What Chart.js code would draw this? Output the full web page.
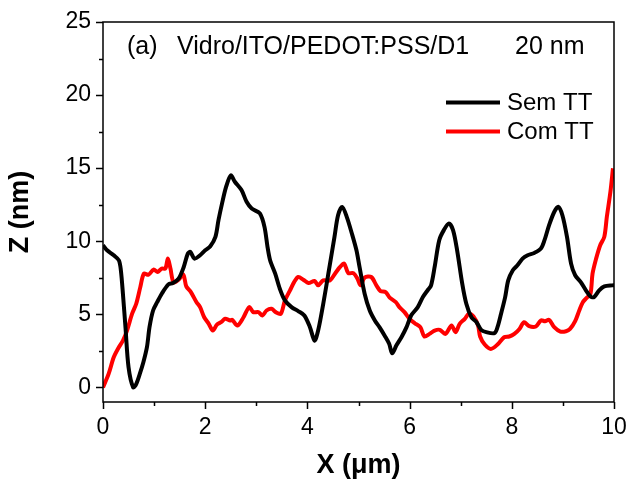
<!DOCTYPE html>
<html>
<head>
<meta charset="utf-8">
<script src="https://cdn.jsdelivr.net/npm/chart.js@4/dist/chart.umd.min.js"></script>
<style>
  html, body { margin: 0; padding: 0; background: #fff; }
  #wrap { width: 630px; height: 484px; }
</style>
</head>
<body>
<div id="wrap"><canvas id="c" width="630" height="484"></canvas></div>
<script>
// Surface height profiles, Z (nm) against X (µm)
const semX = [0, 0.08, 0.21, 0.31, 0.35, 0.39, 0.44, 0.5, 0.59, 0.65, 0.72, 0.79, 0.86, 0.91, 0.98, 1.06, 1.15, 1.28, 1.37, 1.48, 1.58, 1.66, 1.71, 1.79, 1.9, 2.0, 2.1, 2.2, 2.26, 2.33, 2.41, 2.5, 2.58, 2.71, 2.81, 2.91, 3.07, 3.16, 3.22, 3.27, 3.37, 3.46, 3.56, 3.69, 3.82, 3.94, 4.05, 4.14, 4.21, 4.31, 4.41, 4.53, 4.6, 4.68, 4.77, 4.87, 4.96, 5.02, 5.12, 5.22, 5.32, 5.41, 5.51, 5.6, 5.66, 5.74, 5.84, 5.94, 6.03, 6.16, 6.26, 6.36, 6.42, 6.49, 6.58, 6.67, 6.77, 6.85, 6.93, 7.03, 7.11, 7.21, 7.31, 7.4, 7.5, 7.66, 7.72, 7.79, 7.87, 7.93, 8.02, 8.11, 8.21, 8.31, 8.44, 8.57, 8.64, 8.73, 8.83, 8.91, 8.99, 9.08, 9.16, 9.24, 9.35, 9.45, 9.54, 9.61, 9.71, 9.81, 9.97, 10.0];
const semZ = [9.73, 9.38, 9.04, 8.7, 8.0, 6.4, 4.1, 1.37, 0.0, 0.23, 0.92, 1.72, 2.75, 4.12, 5.26, 5.83, 6.41, 7.05, 7.14, 7.44, 8.24, 9.15, 9.27, 8.81, 9.04, 9.38, 9.66, 10.3, 11.44, 12.59, 13.73, 14.5, 14.07, 13.5, 12.7, 12.24, 11.9, 10.98, 9.6, 8.7, 7.78, 6.75, 5.95, 5.49, 5.22, 4.92, 4.12, 3.2, 3.89, 5.72, 7.78, 10.3, 11.78, 12.35, 11.67, 10.53, 9.38, 8.24, 6.41, 5.26, 4.58, 4.12, 3.55, 2.98, 2.33, 2.86, 3.43, 4.12, 4.92, 5.49, 6.18, 6.68, 6.98, 8.24, 10.07, 10.76, 11.21, 10.76, 9.38, 7.1, 5.72, 4.8, 4.46, 3.94, 3.78, 3.71, 4.12, 5.04, 6.18, 7.32, 8.01, 8.35, 8.81, 9.04, 9.2, 9.5, 10.07, 11.1, 12.0, 12.35, 11.78, 10.3, 8.47, 7.67, 7.2, 6.64, 6.22, 6.18, 6.64, 6.91, 6.98, 6.98];

const comX = [0, 0.11, 0.21, 0.31, 0.39, 0.47, 0.57, 0.65, 0.73, 0.8, 0.89, 0.99, 1.07, 1.15, 1.22, 1.27, 1.32, 1.38, 1.48, 1.57, 1.63, 1.72, 1.83, 1.9, 1.98, 2.07, 2.15, 2.23, 2.31, 2.39, 2.49, 2.53, 2.63, 2.75, 2.86, 2.94, 3.04, 3.12, 3.2, 3.3, 3.38, 3.48, 3.56, 3.66, 3.74, 3.82, 3.92, 4.02, 4.14, 4.21, 4.31, 4.44, 4.54, 4.64, 4.72, 4.8, 4.9, 4.98, 5.04, 5.12, 5.25, 5.35, 5.43, 5.53, 5.61, 5.73, 5.8, 5.9, 6.0, 6.1, 6.21, 6.29, 6.39, 6.49, 6.59, 6.7, 6.82, 6.9, 6.98, 7.08, 7.16, 7.25, 7.34, 7.38, 7.47, 7.59, 7.72, 7.85, 7.95, 8.05, 8.15, 8.24, 8.34, 8.47, 8.57, 8.65, 8.73, 8.83, 8.95, 9.06, 9.14, 9.24, 9.32, 9.39, 9.47, 9.54, 9.58, 9.65, 9.73, 9.81, 9.86, 9.93, 9.98];
const comZ = [0.0, 0.92, 2.06, 2.75, 3.2, 3.89, 5.04, 5.72, 6.86, 7.78, 7.71, 8.06, 7.9, 8.13, 8.13, 8.81, 8.13, 7.2, 7.37, 7.73, 6.91, 6.52, 5.83, 5.49, 4.8, 4.35, 3.89, 4.3, 4.46, 4.69, 4.58, 4.62, 4.23, 4.8, 5.49, 5.15, 5.15, 4.92, 5.26, 5.38, 5.15, 5.04, 5.95, 6.64, 7.2, 7.55, 7.37, 7.14, 7.28, 6.98, 7.32, 7.32, 7.78, 8.24, 8.47, 7.82, 7.82, 7.44, 6.98, 7.51, 7.55, 6.98, 6.59, 6.52, 6.14, 5.83, 5.49, 5.15, 4.69, 4.39, 4.12, 3.48, 3.66, 3.89, 3.94, 3.66, 4.23, 3.78, 4.35, 4.69, 5.04, 4.85, 4.23, 3.48, 2.93, 2.63, 2.93, 3.43, 3.48, 3.66, 4.0, 4.46, 4.19, 4.17, 4.58, 4.53, 4.62, 4.12, 3.82, 3.84, 4.0, 4.53, 5.26, 5.83, 6.14, 6.41, 7.78, 8.81, 9.73, 10.3, 11.67, 13.38, 14.99];

const seriesNames = ['Sem TT', 'Com TT'];
const yMajorTicks = [0, 5, 10, 15, 20, 25];
const xMajorTicks = [0, 2, 4, 6, 8, 10];
const headerText = ['(a)', 'Vidro/ITO/PEDOT:PSS/D1', '20 nm'];
const axisTitles = { x: 'X (\u03BCm)', y: 'Z (nm)' };

const pts = (xs, ys) => xs.map((x, i) => ({ x, y: ys[i] }));

const FONT = '"Liberation Sans", Arial, sans-serif';

// Frame, tick marks, header text, legend and axis titles
const decorations = {
  id: 'decorations',
  afterDraw(chart) {
    const ctx = chart.ctx;
    const { left, right, top, bottom } = chart.chartArea;
    const xs = chart.scales.x, ys = chart.scales.y;
    ctx.save();
    ctx.strokeStyle = '#000';
    ctx.lineWidth = 1.5;
    ctx.strokeRect(left, top, right - left, bottom - top);

    // ticks on left and bottom, pointing outward
    ctx.beginPath();
    for (let v = 0; v <= 25; v += 2.5) {
      const y = Math.round(ys.getPixelForValue(v)) + 0.5;
      const len = (v % 5 === 0) ? 7 : 4;
      ctx.moveTo(left, y); ctx.lineTo(left - len, y);
    }
    for (let v = 0; v <= 10; v += 1) {
      const x = Math.round(xs.getPixelForValue(v)) + 0.5;
      const len = (v % 2 === 0) ? 7 : 4;
      ctx.moveTo(x, bottom); ctx.lineTo(x, bottom + len);
    }
    ctx.stroke();

    // header inside the plot
    ctx.fillStyle = '#000';
    ctx.textBaseline = 'middle';
    ctx.textAlign = 'left';
    ctx.font = '25px ' + FONT;
    ctx.fillText(headerText[0], 127, 47);
    ctx.fillText(headerText[1], 177, 47);
    ctx.fillText(headerText[2], 515, 47);

    // legend
    const rows = [102.5, 131.5];
    ctx.font = '24px ' + FONT;
    chart.data.datasets.forEach((d, i) => {
      ctx.strokeStyle = d.borderColor;
      ctx.lineWidth = 4;
      ctx.beginPath();
      ctx.moveTo(446, rows[i]); ctx.lineTo(500, rows[i]);
      ctx.stroke();
      ctx.fillText(d.label, 507, rows[i] + 1);
    });

    // axis titles
    ctx.font = 'bold 27px ' + FONT;
    ctx.textAlign = 'center';
    ctx.fillText(axisTitles.x, (left + right) / 2, 466);
    ctx.translate(21, (top + bottom) / 2);
    ctx.rotate(-Math.PI / 2);
    ctx.fillText(axisTitles.y, 0, 0);
    ctx.restore();
  }
};

new Chart(document.getElementById('c'), {
  type: 'line',
  data: {
    datasets: [
      { label: seriesNames[0], data: pts(semX, semZ), borderColor: '#000000', borderWidth: 4, pointRadius: 0, tension: 0.3 },
      { label: seriesNames[1], data: pts(comX, comZ), borderColor: '#ff0000', borderWidth: 4, pointRadius: 0, tension: 0.3 }
    ]
  },
  plugins: [decorations],
  options: {
    responsive: false,
    animation: false,
    events: [],
    layout: { padding: { top: 22, right: 16, left: 0, bottom: 0 } },
    plugins: { legend: { display: false }, tooltip: { enabled: false } },
    scales: {
      x: {
        type: 'linear', min: 0, max: 10,
        afterBuildTicks: s => { s.ticks = xMajorTicks.map(v => ({ value: v })); },
        afterFit: s => { s.height = 82; s.paddingLeft = 0; s.paddingRight = 0; },
        grid: { display: false, drawTicks: false },
        border: { display: false },
        ticks: { color: '#000', padding: 12, font: { family: FONT, size: 23 }, maxRotation: 0 }
      },
      y: {
        type: 'linear', min: -1, max: 25,
        afterBuildTicks: s => { s.ticks = yMajorTicks.map(v => ({ value: v })); },
        afterFit: s => { s.width = 103; s.paddingTop = 0; s.paddingBottom = 0; },
        grid: { display: false, drawTicks: false },
        border: { display: false },
        ticks: { color: '#000', padding: 12, font: { family: FONT, size: 23 } }
      }
    }
  }
});
</script>
</body>
</html>
